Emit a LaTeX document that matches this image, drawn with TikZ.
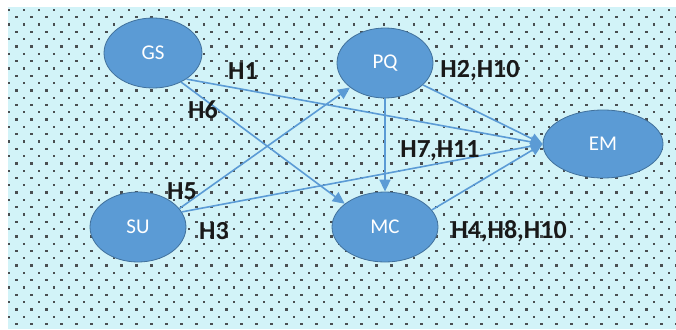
\documentclass[tikz,border=0pt]{standalone}
\usepackage{fontspec}
\setmainfont{Carlito}
\usetikzlibrary{arrows.meta,shapes.geometric}

\definecolor{paper}{HTML}{D2F3F8}
\definecolor{dotc}{HTML}{4A4F52}
\definecolor{nodefill}{HTML}{5B9BD5}
\definecolor{nodeline}{HTML}{41719C}
\definecolor{linkc}{HTML}{5B9BD5}

\tikzset{
  construct/.style={ellipse, fill=nodefill, draw=nodeline, line width=0.8pt,
    inner sep=0pt, minimum height=70pt, text=white,
    font=\fontsize{21}{21}\selectfont},
  link/.style={draw=linkc, line width=1.6pt,
    -{Triangle[length=12pt,width=11pt]}},
  hyp/.style={font=\bfseries\fontsize{26}{26}\selectfont, text=black!90,
    inner sep=0pt, anchor=center}
}

\begin{document}
\begin{tikzpicture}[x=1pt,y=-1pt]
  \useasboundingbox (0,0) rectangle (676,329);
  \fill[white] (0,0) rectangle (676,329);

  % dotted panel
  \fill[paper] (8,7) rectangle (676,329);
  \begin{scope}
    \clip (8,7) rectangle (676,329);
    \foreach \r [evaluate=\r as \yy using {10+7.3*\r},
                 evaluate=\r as \xo using {9+7.5*mod(\r,2)}] in {0,...,43}{
      \foreach \c [evaluate=\c as \xx using {\xo+15*\c}] in {0,...,44}{
        \fill[dotc] (\xx-1.1,\yy-1.1) rectangle ++(2.3,2.3);
      }
    }
  \end{scope}

  % constructs
  \node[construct, minimum width=98pt]  (GS) at (153,53)  {GS};
  \node[construct, minimum width=96pt]  (PQ) at (385,63)  {PQ};
  \node[construct, minimum width=120pt, minimum height=68pt] (EM) at (603,144) {EM};
  \node[construct, minimum width=96pt]  (SU) at (138,227) {SU};
  \node[construct, minimum width=106pt] (MC) at (385,227) {MC};

  % hypothesised paths
  \draw[link] (GS.-38) -- (EM.west);
  \draw[link] (GS.-46) -- (MC.150);
  \draw[link] (SU.24)  -- (PQ.215);
  \draw[link] (SU.19)  -- (EM.west);
  \draw[link] (PQ.-30) -- (EM.west);
  \draw[link] (PQ.south) -- (MC.north);
  \draw[link] (MC.20)  -- (EM.west);

  % hypothesis labels
  \node[hyp] (h1)  at (243,71)  {H1};
  \node[hyp] (h6)  at (203,110) {H6};
  \node[hyp] (h2)  at (480,71)  {H2,H10};
  \node[hyp] (h7)  at (440,151) {H7,H11};
  \node[hyp] (h5)  at (182,191) {H5};
  \node[hyp] (h3)  at (214,231) {H3};
  \node[hyp] (h4)  at (509,231) {H4,H8,H10};
\end{tikzpicture}
\end{document}
